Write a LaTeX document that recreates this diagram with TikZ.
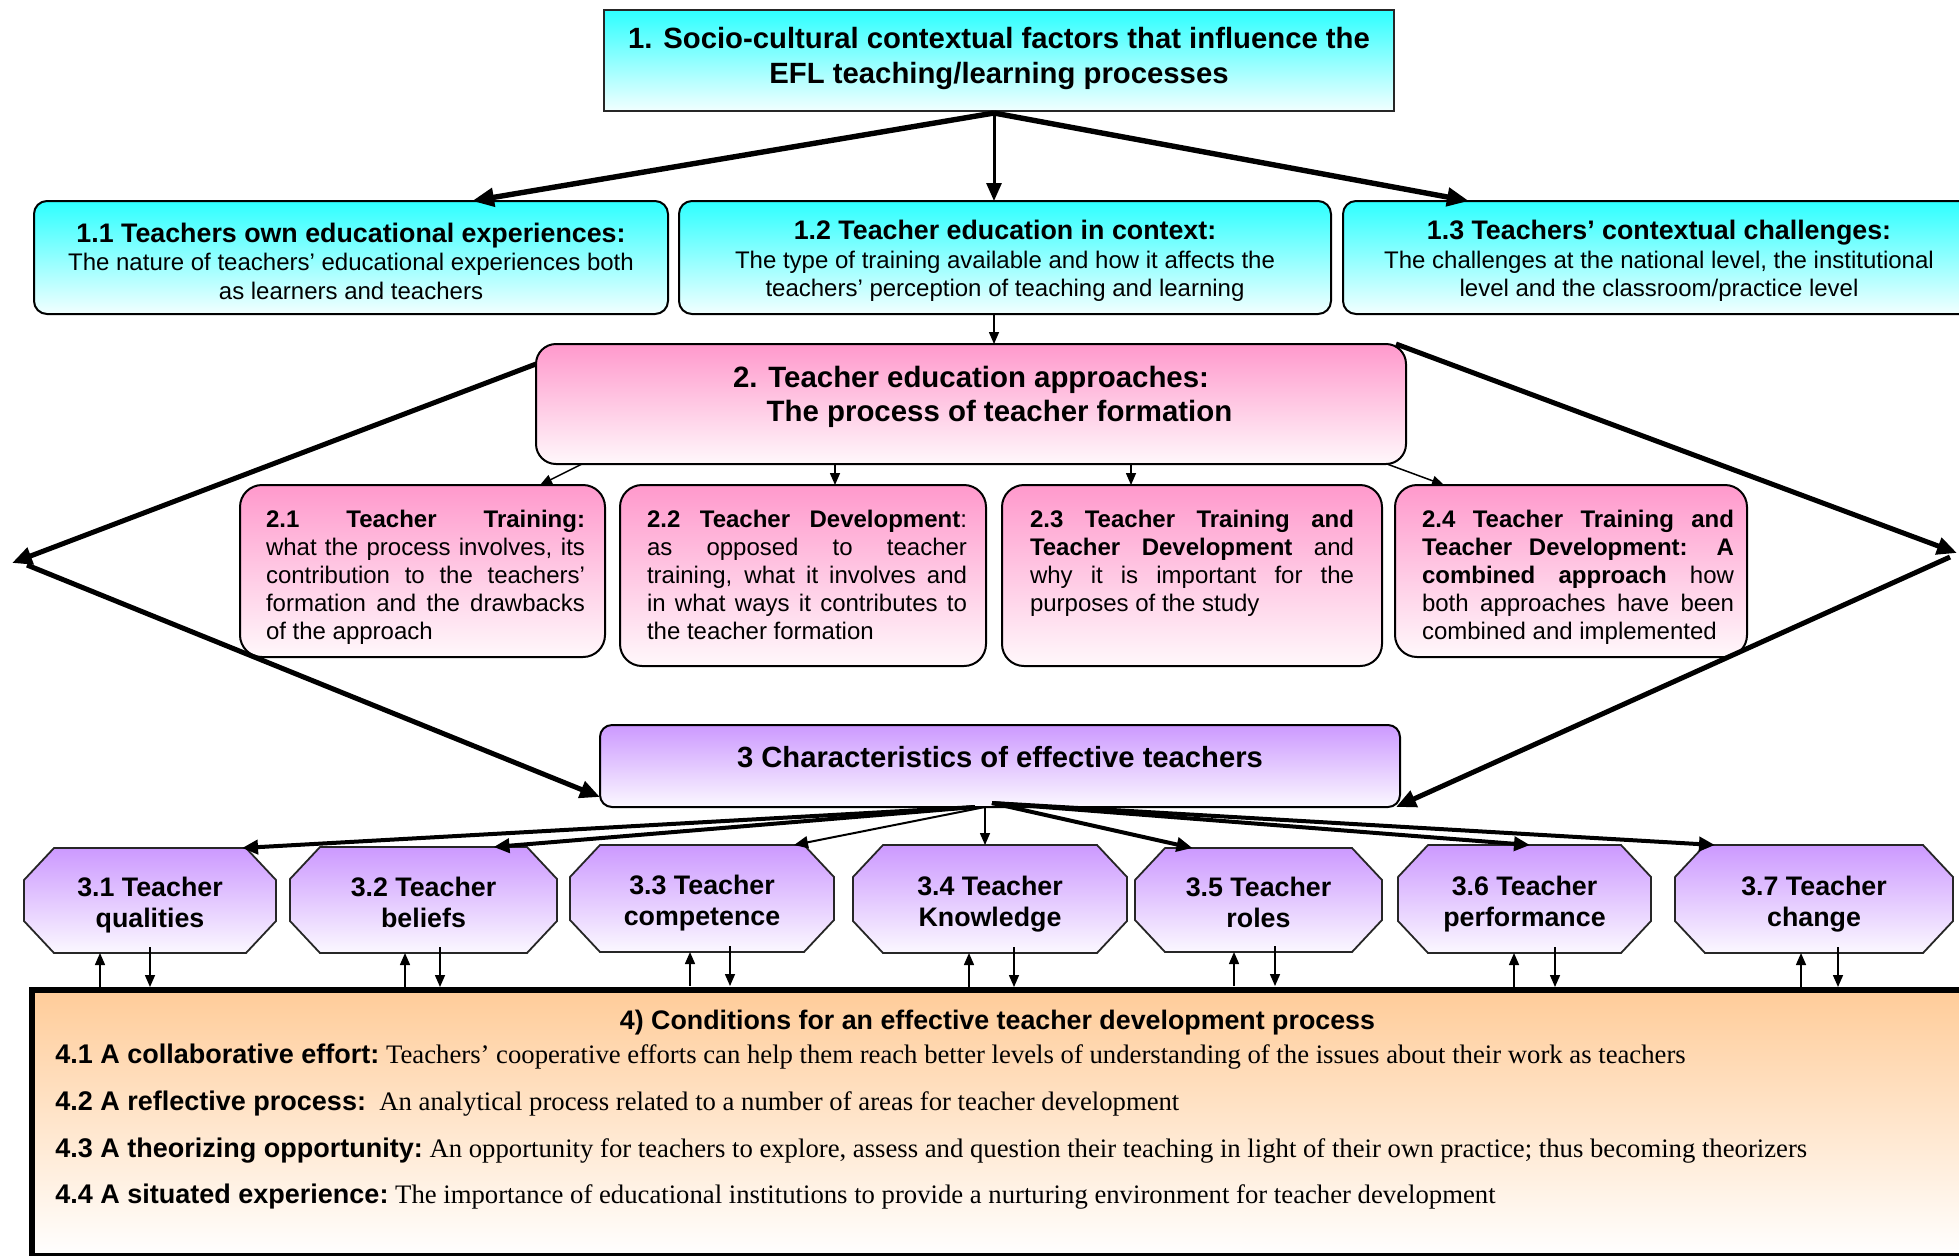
\documentclass[tikz,border=0pt]{standalone}
\usepackage{fontspec}
\setmainfont{Liberation Sans}
\newfontfamily\timesfont{Liberation Serif}
\usetikzlibrary{arrows.meta}

\definecolor{cyanTop}{HTML}{2EFFFF}
\definecolor{cyanBot}{HTML}{F2FFFF}
\definecolor{pinkTop}{HTML}{FF99CC}
\definecolor{pinkBot}{HTML}{FFF8FB}
\definecolor{lilacTop}{HTML}{CC99FF}
\definecolor{lilacBot}{HTML}{FBF8FF}
\definecolor{peachTop}{HTML}{FFCC99}
\definecolor{peachBot}{HTML}{FFFFFF}

% justified and last lines of the narrow text columns
\newcommand\jl[1]{\makebox[\jwd][s]{#1}}
\newcommand\jlast[1]{\makebox[\jwd][l]{#1}}

% octagonal frame drawn round an invisible rectangle node, then its label
\newcommand\octbox[2]{%
  \path[octfill] ([xshift=15pt]#1.north west) -- ([xshift=-15pt]#1.north east)
    -- ([yshift=-16pt]#1.north east) -- ([yshift=16pt]#1.south east)
    -- ([xshift=-15pt]#1.south east) -- ([xshift=15pt]#1.south west)
    -- ([yshift=16pt]#1.south west) -- ([yshift=-16pt]#1.north west) -- cycle;
  \node[octtext] (#1-t) at ([yshift=-2.5pt]#1.center) {#2\vphantom{gq}};
}

% serif description following a bold lead-in
\newcommand\desc[1]{{\timesfont\fontsize{13.35}{16}\selectfont\ #1}}

\tikzset{
  jwidth/.code={\def\jwd{#1}},
  frame/.style={inner sep=0pt, outer sep=0pt},
  txt/.style={inner sep=0pt, outer sep=0pt, align=center},
  titlebox/.style={frame, draw=black!85, line width=0.9pt, top color=cyanTop, bottom color=cyanBot},
  cyanbox/.style={frame, draw=black, line width=1pt, rounded corners=6.5pt, top color=cyanTop, bottom color=cyanBot},
  pinkbig/.style={frame, draw=black, line width=1pt, rounded corners=10pt, top color=pinkTop, bottom color=pinkBot},
  pinkbox/.style={frame, draw=black, line width=1pt, rounded corners=11pt, top color=pinkTop, bottom color=pinkBot},
  lilacbox/.style={frame, draw=black, line width=1pt, rounded corners=6pt, top color=lilacTop, bottom color=lilacBot},
  octfill/.style={draw=black!85, line width=0.9pt, top color=lilacTop, bottom color=lilacBot},
  octtext/.style={txt, font=\bfseries\fontsize{13.4}{15.5}\selectfont},
  peachbox/.style={frame, draw=black, line width=3pt, top color=peachTop, bottom color=peachBot},
  colbox/.style={inner sep=0pt, outer sep=0pt, align=left, anchor=north, font=\fontsize{12}{14}\selectfont},
  cond/.style={inner sep=0pt, anchor=west, font=\fontsize{13.5}{16}\selectfont},
  heavy/.style={line width=2.7pt, -{Triangle[length=11pt,width=9pt]}},
  big/.style={line width=2.5pt, -{Triangle[length=10pt,width=8.5pt]}},
  medium/.style={line width=1.5pt, -{Triangle[length=9pt,width=7.5pt]}},
  fan/.style={line width=2pt, -{Triangle[length=8pt,width=7pt]}},
  fanthin/.style={line width=1pt, -{Triangle[length=7pt,width=6pt]}},
  thin/.style={line width=0.75pt, -{Triangle[length=6pt,width=5pt]}},
}

\begin{document}
\begin{tikzpicture}[x=0.5pt,y=-0.5pt]
\useasboundingbox (0,0) rectangle (1959,1255);
\begin{scope}
\clip (0,0) rectangle (1959,1255);

% ---------- level 1 ----------
\node[titlebox, minimum width=395pt, minimum height=50.5pt] (T) at (999,60.5) {};
\node[txt, font=\bfseries\fontsize{14.65}{17.5}\selectfont] (T-t) at ([yshift=1pt]T.center)
  {1. Socio-cultural contextual factors that influence the\\EFL teaching/learning processes};

\node[cyanbox, minimum width=317pt, minimum height=56.5pt] (B11) at (351,257.5) {};
\node[cyanbox, minimum width=326pt, minimum height=56.5pt] (B12) at (1005,257.5) {};
\node[cyanbox, minimum width=316pt, minimum height=56.5pt] (B13) at (1659,257.5) {};

\node[txt, font=\fontsize{12}{14.25}\selectfont] (B11-t) at ([yshift=-1.75pt]B11.center)
  {{\bfseries\fontsize{13.4}{14.25}\selectfont 1.1 Teachers own educational experiences:}\\
   The nature of teachers’ educational experiences both\\as learners and teachers};
\node[txt, font=\fontsize{12}{14.25}\selectfont] (B12-t) at ([yshift=-1.75pt]B12.center)
  {{\bfseries\fontsize{13.4}{14.25}\selectfont 1.2 Teacher education in context:}\\
   The type of training available and how it affects the\\teachers’ perception of teaching and learning};
\node[txt, font=\fontsize{12}{14.25}\selectfont] (B13-t) at ([yshift=-1.75pt]B13.center)
  {{\bfseries\fontsize{13.4}{14.25}\selectfont 1.3 Teachers’ contextual challenges:}\\
   The challenges at the national level, the institutional\\level and the classroom/practice level};

\coordinate (apex) at ([xshift=-2.5pt,yshift=-1pt]T.south);
\draw[heavy] (apex) -- ([xshift=60.5pt]B11.north);
\draw[medium] (apex) -- ([xshift=-5.5pt]B12.north);
\draw[heavy] (apex) -- ([xshift=-95pt]B13.north);

% ---------- level 2 ----------
\node[pinkbig, minimum width=435pt, minimum height=60pt] (B2) at (971,404) {};
\node[txt, font=\bfseries\fontsize{14.7}{17}\selectfont] (B2-a) at (971,380) {2. Teacher education approaches:};
\node[txt, font=\bfseries\fontsize{14.7}{17}\selectfont] (B2-b) at (999.5,414) {The process of teacher formation};
\draw[thin] ([xshift=-5.5pt]B12.south) -- ([xshift=11.5pt]B2.north);

\node[pinkbox, minimum width=182.5pt, minimum height=86pt] (B21) at (422.5,571) {};
\node[pinkbox, minimum width=183pt, minimum height=90.5pt] (B22) at (803,575.5) {};
\node[pinkbox, minimum width=190pt, minimum height=90.5pt] (B23) at (1192,575.5) {};
\node[pinkbox, minimum width=176pt, minimum height=86pt] (B24) at (1571,571) {};

\node[colbox, jwidth=159.5pt] (B21-t) at ([xshift=1.5pt,yshift=-12.5pt]B21.north)
  {\jl{\textbf{2.1 Teacher Training:}}\\
   \jl{what the process involves, its}\\
   \jl{contribution to the teachers’}\\
   \jl{formation and the drawbacks}\\
   \jlast{of the approach}};
\node[colbox, jwidth=160pt] (B22-t) at ([xshift=2pt,yshift=-12.5pt]B22.north)
  {\jl{\textbf{2.2 Teacher Development}:}\\
   \jl{as opposed to teacher}\\
   \jl{training, what it involves and}\\
   \jl{in what ways it contributes to}\\
   \jlast{the teacher formation}};
\node[colbox, jwidth=162pt] (B23-t) at ([yshift=-12.5pt]B23.north)
  {\jl{\textbf{2.3 Teacher Training and}}\\
   \jl{\textbf{Teacher Development} and}\\
   \jl{why it is important for the}\\
   \jlast{purposes of the study}};
\node[colbox, jwidth=156pt] (B24-t) at ([xshift=3.5pt,yshift=-12.5pt]B24.north)
  {\jl{\textbf{2.4 Teacher Training and}}\\
   \jl{\textbf{Teacher Development: A}}\\
   \jl{\textbf{combined approach} how}\\
   \jl{both approaches have been}\\
   \jlast{combined and implemented}};

\draw[thin] ([xshift=-194.5pt]B2.south) -- ([xshift=58.75pt]B21.north);
\draw[thin] ([xshift=-68pt]B2.south) -- ([xshift=16pt]B22.north);
\draw[thin] ([xshift=80pt]B2.south) -- ([xshift=-30.5pt]B23.north);
\draw[thin] ([xshift=208pt]B2.south) -- ([xshift=-63.5pt]B24.north);

% ---------- level 3 ----------
\node[lilacbox, minimum width=400pt, minimum height=41pt] (B3) at (1000,766) {};
\node[txt, font=\bfseries\fontsize{14.6}{17}\selectfont] (B3-t) at ([yshift=4.5pt]B3.center) {3 Characteristics of effective teachers};

% side loops from level 2 down to level 3
\coordinate (Ltip) at (12,563);
\coordinate (Lback) at (27,565);
\coordinate (Rtip) at (1957,553);
\coordinate (Rback) at (1950,557);
\draw[big] ([yshift=-10pt]B2.north west) -- (Ltip);
\draw[big] (Lback) -- ([yshift=5pt]B3.south west);
\draw[big] ([xshift=-5pt]B2.north east) -- (Rtip);
\draw[big] (Rback) -- ([xshift=-2pt]B3.south east);

\node[frame, minimum width=126pt,   minimum height=52.5pt] (H31) at (150,900.5) {};
\node[frame, minimum width=133.5pt, minimum height=53pt]   (H32) at (423.5,900) {};
\node[frame, minimum width=132pt,   minimum height=53.5pt] (H33) at (702,898.5) {};
\node[frame, minimum width=137pt,   minimum height=54pt]   (H34) at (990,899) {};
\node[frame, minimum width=123.5pt, minimum height=52pt]   (H35) at (1258.5,900) {};
\node[frame, minimum width=126.5pt, minimum height=54pt]   (H36) at (1524.5,899) {};
\node[frame, minimum width=139pt,   minimum height=54pt]   (H37) at (1814,899) {};
\octbox{H31}{3.1 Teacher\\qualities}
\octbox{H32}{3.2 Teacher\\beliefs}
\octbox{H33}{3.3 Teacher\\competence}
\octbox{H34}{3.4 Teacher\\Knowledge}
\octbox{H35}{3.5 Teacher\\roles}
\octbox{H36}{3.6 Teacher\\performance}
\octbox{H37}{3.7 Teacher\\change}

\coordinate (fanL) at ([xshift=-12.5pt]B3.south);
\coordinate (fanM) at ([xshift=-7.5pt]B3.south);
\coordinate (fanR) at ([xshift=-4pt,yshift=2pt]B3.south);
\draw[fan] (fanL) -- ([xshift=46pt]H31.north);
\draw[fan] (fanL) -- ([xshift=35pt]H32.north);
\draw[fanthin] (fanM) -- ([xshift=46pt]H33.north);
\draw[thin] (fanM) -- ([xshift=-2.5pt]H34.north);
\draw[fan] (fanR) -- ([xshift=-33pt]H35.north);
\draw[fan] (fanR) -- ([xshift=2.75pt]H36.north);
\draw[fan] (fanR) -- ([xshift=-49.5pt]H37.north);

% ---------- level 4 ----------
\node[peachbox, minimum width=989pt, minimum height=133pt] (B4) at (1021,1123) {};
\node[txt, font=\bfseries\fontsize{13.4}{16}\selectfont] (B4-h) at (997.5,1023)
  {4) Conditions for an effective teacher development process};
\node[cond] (B4-1) at (55,1057) {\textbf{4.1 A collaborative effort:}\desc{Teachers’ cooperative efforts can help them reach better levels of understanding of the issues about their work as teachers}};
\node[cond] (B4-2) at (55,1104) {\textbf{4.2 A reflective process:}\desc{\ An analytical process related to a number of areas for teacher development}};
\node[cond] (B4-3) at (55,1151) {\textbf{4.3 A theorizing opportunity:}\desc{An opportunity for teachers to explore, assess and question their teaching in light of their own practice; thus becoming theorizers}};
\node[cond] (B4-4) at (55,1197) {\textbf{4.4 A situated experience:}\desc{The importance of educational institutions to provide a nurturing environment for teacher development}};

% links between the characteristics and the conditions
\foreach \h/\u/\d in {H31/-25/0, H32/-9.25/8.25, H33/-6/14, H34/-10.5/12, H35/-12.25/8.25, H36/-5.25/15.25, H37/-6.5/12}{
  \draw[thin] ([xshift=\u pt,yshift=-17pt]\h.south) -- ([xshift=\u pt]\h.south);
  \draw[thin] ([xshift=\d pt,yshift=3pt]\h.south) -- ([xshift=\d pt,yshift=-17pt]\h.south);
}
\end{scope}
\end{tikzpicture}
\end{document}
